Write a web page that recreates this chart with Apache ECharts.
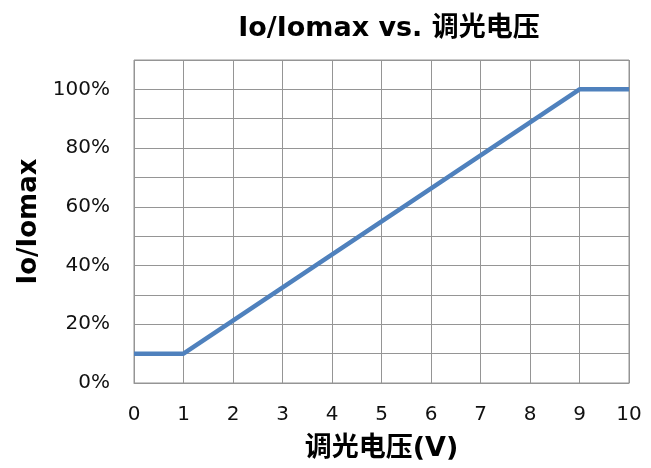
<!DOCTYPE html>
<html>
<head>
<meta charset="utf-8">
<script src="https://cdn.jsdelivr.net/npm/echarts@6/dist/echarts.min.js"></script>
<style>
  html, body { margin: 0; padding: 0; background: #fff; }
  #main { width: 651px; height: 468px; }
</style>
</head>
<body>
<div id="main"></div>
<script>
// 调光电压 (V) and output ratio Io/Iomax
var voltage = [0, 1, 9, 10];
var ratio = [0.1, 0.1, 1.0, 1.0];
var yTicks = [0, 0.2, 0.4, 0.6, 0.8, 1.0];

var chartDom = document.getElementById("main");
var myChart = echarts.init(chartDom);
var option;

var gridColor = "#959595";
var labelFont = "DejaVu Sans, Verdana, sans-serif";
var boldFont = "DejaVu Sans, Noto Sans CJK SC, sans-serif";

option = {
  animation: false,
  backgroundColor: "#fff",
  title: {
    text: "Io/Iomax vs. 调光电压",
    left: 384,
    top: 10,
    textAlign: "center",
    textStyle: {
      fontFamily: boldFont,
      fontWeight: "bold",
      fontSize: 27,
      color: "#000"
    }
  },
  grid: {
    left: 134,
    right: 22,
    top: 60,
    bottom: 85,
    show: true,
    borderColor: gridColor,
    borderWidth: 1
  },
  xAxis: {
    type: "value",
    min: 0,
    max: 10,
    interval: 1,
    name: "调光电压(V)",
    nameLocation: "middle",
    nameGap: 52,
    nameTextStyle: {
      fontFamily: boldFont,
      fontWeight: "bold",
      fontSize: 27,
      color: "#000"
    },
    axisLine: { show: true, lineStyle: { color: gridColor, width: 1 } },
    axisTick: { show: false },
    axisLabel: {
      margin: 22,
      fontFamily: labelFont,
      fontSize: 20,
      color: "#111"
    },
    splitLine: { show: true, lineStyle: { color: gridColor, width: 1 } }
  },
  yAxis: {
    type: "value",
    min: 0,
    max: 1.1,
    interval: 0.1,
    name: "Io/Iomax",
    nameLocation: "middle",
    nameRotate: 90,
    nameGap: 92,
    nameTextStyle: {
      fontFamily: boldFont,
      fontWeight: "bold",
      fontSize: 26,
      color: "#000"
    },
    axisLine: { show: false },
    axisTick: { show: false },
    axisLabel: {
      margin: 24,
      fontFamily: labelFont,
      fontSize: 20,
      color: "#111",
      formatter: function (v) {
        for (var i = 0; i < yTicks.length; i++) {
          if (Math.abs(v - yTicks[i]) < 1e-6) return Math.round(yTicks[i] * 100) + "%";
        }
        return "";
      }
    },
    splitLine: { show: true, lineStyle: { color: gridColor, width: 1 } }
  },
  series: [
    {
      type: "line",
      data: voltage.map(function (v, i) { return [v, ratio[i]]; }),
      showSymbol: false,
      symbol: "none",
      lineStyle: { color: "#4f81bd", width: 4.5 }
    }
  ]
};

option && myChart.setOption(option);
</script>
</body>
</html>
